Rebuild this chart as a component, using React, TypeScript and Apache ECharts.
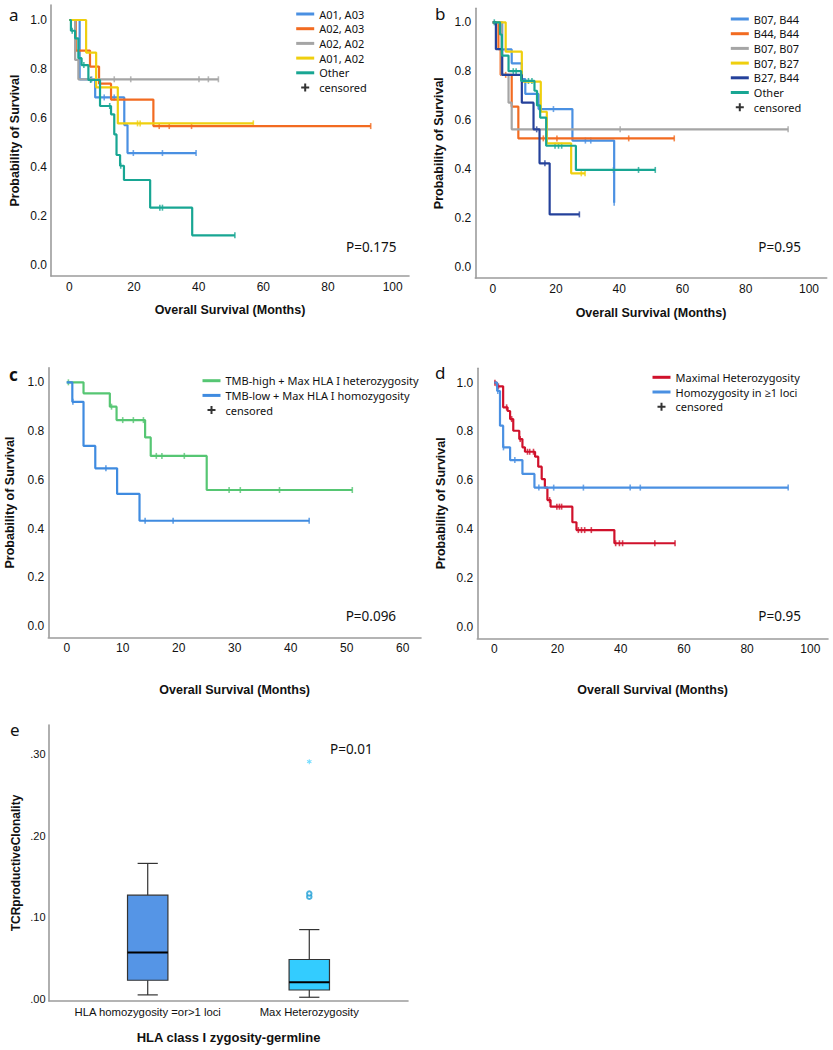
import React, { useEffect, useRef } from 'react';
import * as echarts from 'echarts';

type Step = [number, number];

// ---------- Panel a : HLA-A genotypes ----------
const aNames = ['A01, A03', 'A02, A03', 'A02, A02', 'A01, A02', 'Other'];
const aSteps_A01A03: Step[] = [[3.2, 0.758], [8, 0.684], [17, 0.571], [18, 0.457]];
const aCens_A01A03 = [6.9, 10.8, 13.9, 19.8, 28.8, 39.2];
const aSteps_A02A03: Step[] = [[2, 0.875], [6.4, 0.81], [9.2, 0.74], [12.9, 0.675], [26, 0.567]];
const aCens_A02A03 = [27.8, 30.9, 37.8, 93.2];
const aSteps_A02A02: Step[] = [[1.8, 0.837], [2.8, 0.758]];
const aCens_A02A02 = [6.6, 13.9, 19, 40.1, 43, 46.1];
const aSteps_A01A02: Step[] = [[5.2, 0.867], [8.3, 0.725], [15, 0.578]];
const aCens_A01A02 = [21.1, 21.9, 56.9];
const aSteps_Other: Step[] = [[0.5, 0.956], [1.8, 0.925], [2.8, 0.844], [3.8, 0.816], [5.9, 0.755], [9.5, 0.649], [12.9, 0.615], [13.9, 0.533], [14.6, 0.449], [15.7, 0.405], [16.9, 0.347], [25, 0.234], [38, 0.121]];
const aCens_Other = [0.9, 4.5, 6.6, 12.5, 15.9, 28, 28.8, 51.2];
const aPValue = 'P=0.175';

// ---------- Panel b : HLA-B genotypes ----------
const bNames = ['B07, B44', 'B44, B44', 'B07, B07', 'B07, B27', 'B27, B44', 'Other'];
const bSteps_B07B44: Step[] = [[3, 0.889], [6, 0.832], [9.2, 0.768], [10.3, 0.707], [14.5, 0.645], [25.2, 0.516], [38.4, 0.262]];
const bCens_B07B44 = [19.2, 29.3, 31, 38.4];
const bSteps_B44B44: Step[] = [[1.8, 0.89], [2.5, 0.785], [6, 0.655], [8.1, 0.525]];
const bCens_B44B44 = [4.1, 16, 20.3, 43, 57.4];
const bSteps_B07B07: Step[] = [[2.8, 0.785], [5, 0.671], [6, 0.562]];
const bCens_B07B07 = [40.3, 93.4];
const bSteps_B07B27: Step[] = [[4.1, 0.88], [9.2, 0.757], [15.2, 0.634], [17.1, 0.505], [24.8, 0.382]];
const bCens_B07B27 = [28, 29.2];
const bSteps_B27B44: Step[] = [[1, 0.89], [3, 0.785], [9.2, 0.671], [12.9, 0.562], [14.8, 0.423], [18, 0.214]];
const bCens_B27B44 = [13.9, 16.5, 27.4];
const bSteps_Other: Step[] = [[2.3, 0.95], [2.9, 0.864], [5, 0.8], [9, 0.76], [13.2, 0.72], [14, 0.66], [15, 0.61], [16.9, 0.495], [26.3, 0.396]];
const bCens_Other = [0.5, 6.5, 7.4, 11.3, 12.4, 19.7, 20.8, 21.8, 38.2, 46.1, 51.4];
const bPValue = 'P=0.95';

// ---------- Panel c : TMB + HLA ----------
const cNames = ['TMB-high + Max HLA I heterozygosity', 'TMB-low + Max HLA I homozygosity'];
const cSteps_High: Step[] = [[3, 0.955], [7.7, 0.9], [8.9, 0.845], [14, 0.774], [15, 0.698], [25, 0.558]];
const cCens_High = [0.3, 8, 10, 11.9, 13.7, 16, 17, 21, 29, 31, 38, 51];
const cSteps_Low: Step[] = [[1, 0.92], [3, 0.739], [5.1, 0.647], [9, 0.542], [13, 0.432]];
const cCens_Low = [1.1, 7, 14, 19, 43.3];
const cPValue = 'P=0.096';

// ---------- Panel d : zygosity ----------
const dNames = ['Maximal Heterozygosity', 'Homozygosity in ≥1 loci'];
const dSteps_Max: Step[] = [[0.8, 0.985], [2.8, 0.899], [4.2, 0.884], [5, 0.851], [6, 0.803], [7.9, 0.769], [8.9, 0.735], [9.7, 0.717], [12.9, 0.697], [13.9, 0.656], [15, 0.605], [16, 0.57], [16.8, 0.519], [17.8, 0.492], [24.7, 0.428], [26, 0.396], [38, 0.342]];
const dCens_Max = [0.2, 1.3, 3.9, 5.5, 8.2, 10.5, 11.2, 12.4, 17.5, 19.8, 20.6, 21.3, 26.6, 27.6, 28.6, 30.7, 38.4, 39.6, 40.6, 50.8, 57.2];
const dSteps_Homo: Step[] = [[0.9, 0.966], [1.8, 0.824], [2.8, 0.735], [5, 0.683], [8.9, 0.626], [12.7, 0.57]];
const dCens_Homo = [1.1, 2.9, 6.5, 14.1, 18.8, 28.2, 43, 46.2, 93];
const dPValue = 'P=0.95';

// ---------- Panel e : boxplot ----------
const eCategories = ['HLA homozygosity =or>1 loci', 'Max Heterozygosity'];
// [min, Q1, median, Q3, max]
const eBoxStats = [
  [0.0045, 0.0225, 0.0566, 0.127, 0.166],
  [0.0016, 0.0105, 0.02, 0.048, 0.0847],
];
const eOutliers = [[1, 0.125], [1, 0.129]];
const eExtremes = [[1, 0.291]];
const ePValue = 'P=0.01';

// ---------- styles ----------
const ARIAL = "'Liberation Sans', Arial, sans-serif";
const NOTO = "'Noto Sans', 'Open Sans', sans-serif";
const AXIS_COLOR = '#9c9c9c';
const TEXT_COLOR = '#111111';
const BLUE = '#4A90E2';
const ORANGE = '#F26B21';
const GREY = '#A5A5A5';
const YELLOW = '#EFCF0E';
const TEAL = '#18A693';
const NAVY = '#24419B';
const GREEN = '#56C673';
const CBLUE = '#3F8BE0';
const RED = '#D0112B';
const BOX_COLORS = ['#5595E6', '#33CCFF'];
const PLUS_ICON = 'path://M3,0h2v3h3v2h-3v3h-2v-3h-3v-2h3z';
const STAR_ICON = 'path://M4,0h2v3.3l2.9,-1.7l1,1.7l-2.9,1.7l2.9,1.7l-1,1.7l-2.9,-1.7v3.3h-2v-3.3l-2.9,1.7l-1,-1.7l2.9,-1.7l-2.9,-1.7l1,-1.7l2.9,1.7z';

function survivalAt(steps: Step[], t: number) {
  let s = 1;
  for (const [st, sv] of steps) if (st <= t) s = sv;
  return s;
}

function stepLine(steps: Step[], cens: number[]) {
  const end = Math.max(...cens, ...steps.map((s) => s[0]));
  const pts: number[][] = [[0, 1]];
  let prev = 1;
  for (const [t, s] of steps) {
    pts.push([t, prev], [t, s]);
    prev = s;
  }
  pts.push([end, prev]);
  return pts;
}

type Curve = { name: string; steps: Step[]; cens: number[]; color: string };

function kmSeries(idx: number, curves: Curve[]) {
  const out: any[] = [];
  curves.forEach((c) => {
    out.push({
      type: 'line',
      name: c.name,
      xAxisIndex: idx,
      yAxisIndex: idx,
      data: stepLine(c.steps, c.cens),
      symbol: 'none',
      lineStyle: { color: c.color, width: 2.2 },
      itemStyle: { color: c.color },
      silent: true,
    });
    out.push({
      type: 'scatter',
      name: c.name + ' (censored marks)',
      xAxisIndex: idx,
      yAxisIndex: idx,
      data: c.cens.map((t) => [t, survivalAt(c.steps, t)]),
      symbol: 'rect',
      symbolSize: [1.6, 6],
      itemStyle: { color: c.color },
      silent: true,
    });
  });
  return out;
}

function isMultiple(v: number, step: number) {
  return Math.abs(v / step - Math.round(v / step)) < 1e-6;
}

function kmXAxis(gridIndex: number, min: number, max: number, interval: number, nameGap: number) {
  return {
    gridIndex,
    type: 'value',
    min,
    max,
    minInterval: interval,
    maxInterval: interval,
    splitNumber: 5,
    axisLine: { show: true, onZero: false, lineStyle: { color: AXIS_COLOR, width: 1.6 } },
    axisTick: { show: false },
    splitLine: { show: false },
    axisLabel: {
      margin: 5,
      fontFamily: ARIAL,
      fontSize: 12,
      color: TEXT_COLOR,
      hideOverlap: false,
      formatter: (v: number) => (isMultiple(v, interval) ? String(Math.round(v)) : ''),
    },
    name: 'Overall Survival (Months)',
    nameLocation: 'middle',
    nameGap,
    nameTextStyle: { fontFamily: ARIAL, fontSize: 12.5, fontWeight: 'bold', color: TEXT_COLOR },
  };
}

function kmYAxis(gridIndex: number, min: number, max: number, nameGap: number) {
  return {
    gridIndex,
    type: 'value',
    min,
    max,
    minInterval: 0.2,
    maxInterval: 0.2,
    splitNumber: 5,
    axisLine: { show: true, onZero: false, lineStyle: { color: AXIS_COLOR, width: 1.6 } },
    axisTick: { show: false },
    splitLine: { show: false },
    axisLabel: {
      margin: 4,
      fontFamily: ARIAL,
      fontSize: 12,
      color: TEXT_COLOR,
      hideOverlap: false,
      formatter: (v: number) => (isMultiple(v, 0.2) ? (Math.round(v * 10) / 10).toFixed(1) : ''),
    },
    name: 'Probability of Survival',
    nameLocation: 'middle',
    nameGap,
    nameTextStyle: { fontFamily: ARIAL, fontSize: 12.5, fontWeight: 'bold', color: TEXT_COLOR },
  };
}

function kmLegend(names: string[], left: number, top: number) {
  return {
    data: [
      ...names.map((n) => ({ name: n, itemStyle: { color: 'transparent', borderColor: 'transparent', opacity: 0 } })),
      { name: 'censored', icon: PLUS_ICON },
    ],
    left,
    top,
    padding: 0,
    orient: 'vertical',
    itemWidth: 18,
    itemHeight: 8,
    itemGap: 2.7,
    selectedMode: false,
    lineStyle: { width: 3 },
    textStyle: { fontFamily: NOTO, fontSize: 11, lineHeight: 12, color: TEXT_COLOR },
  };
}

function textEl(text: string, x: number, y: number, fontSize: number, fontWeight = 'normal') {
  return {
    type: 'text',
    x,
    y,
    silent: true,
    style: { text, fontFamily: NOTO, fontSize, fontWeight, fill: TEXT_COLOR, align: 'left', verticalAlign: 'middle' },
  };
}

export default function App() {
  const ref = useRef<HTMLDivElement>(null);

  useEffect(() => {
    if (!ref.current) return;
    const chart = echarts.init(ref.current, undefined, { renderer: 'svg' });

    const aCurves: Curve[] = [
      { name: aNames[0], steps: aSteps_A01A03, cens: aCens_A01A03, color: BLUE },
      { name: aNames[1], steps: aSteps_A02A03, cens: aCens_A02A03, color: ORANGE },
      { name: aNames[2], steps: aSteps_A02A02, cens: aCens_A02A02, color: GREY },
      { name: aNames[3], steps: aSteps_A01A02, cens: aCens_A01A02, color: YELLOW },
      { name: aNames[4], steps: aSteps_Other, cens: aCens_Other, color: TEAL },
    ];
    const bCurves: Curve[] = [
      { name: bNames[0], steps: bSteps_B07B44, cens: bCens_B07B44, color: BLUE },
      { name: bNames[1], steps: bSteps_B44B44, cens: bCens_B44B44, color: ORANGE },
      { name: bNames[2], steps: bSteps_B07B07, cens: bCens_B07B07, color: GREY },
      { name: bNames[3], steps: bSteps_B07B27, cens: bCens_B07B27, color: YELLOW },
      { name: bNames[4], steps: bSteps_B27B44, cens: bCens_B27B44, color: NAVY },
      { name: bNames[5], steps: bSteps_Other, cens: bCens_Other, color: TEAL },
    ];
    const cCurves: Curve[] = [
      { name: cNames[0], steps: cSteps_High, cens: cCens_High, color: GREEN },
      { name: cNames[1], steps: cSteps_Low, cens: cCens_Low, color: CBLUE },
    ];
    const dCurves: Curve[] = [
      { name: dNames[0], steps: dSteps_Max, cens: dCens_Max, color: RED },
      { name: dNames[1], steps: dSteps_Homo, cens: dCens_Homo, color: BLUE },
    ];

    const boxSeries = {
      type: 'custom',
      xAxisIndex: 4,
      yAxisIndex: 4,
      data: eBoxStats.map((b, i) => [i, ...b]),
      encode: { x: 0, y: [1, 2, 3, 4, 5] },
      silent: true,
      renderItem: (params: any, api: any) => {
        const x = api.value(0);
        const pLo = api.coord([x, api.value(1)]);
        const pQ1 = api.coord([x, api.value(2)]);
        const pMed = api.coord([x, api.value(3)]);
        const pQ3 = api.coord([x, api.value(4)]);
        const pHi = api.coord([x, api.value(5)]);
        const halfW = api.size([0.125, 0])[0];
        const capHalf = halfW / 2;
        const st = { stroke: '#333333', lineWidth: 1.2 };
        const cx = pQ1[0];
        return {
          type: 'group',
          children: [
            { type: 'line', shape: { x1: cx, y1: pHi[1], x2: cx, y2: pQ3[1] }, style: st },
            { type: 'line', shape: { x1: cx - capHalf, y1: pHi[1], x2: cx + capHalf, y2: pHi[1] }, style: st },
            { type: 'line', shape: { x1: cx, y1: pQ1[1], x2: cx, y2: pLo[1] }, style: st },
            { type: 'line', shape: { x1: cx - capHalf, y1: pLo[1], x2: cx + capHalf, y2: pLo[1] }, style: st },
            {
              type: 'rect',
              shape: { x: cx - halfW, y: pQ3[1], width: halfW * 2, height: pQ1[1] - pQ3[1] },
              style: { fill: BOX_COLORS[params.dataIndex], stroke: '#333333', lineWidth: 1.2 },
            },
            { type: 'line', shape: { x1: cx - halfW, y1: pMed[1], x2: cx + halfW, y2: pMed[1] }, style: { stroke: '#000000', lineWidth: 2 } },
          ],
        };
      },
    };

    const option: any = {
      animation: false,
      backgroundColor: '#ffffff',
      grid: [
        { left: 51, top: 5, width: 358, height: 271 },
        { left: 475.3, top: 8.3, width: 351.4, height: 269.7 },
        { left: 48.3, top: 367.7, width: 372.7, height: 269.6 },
        { left: 477.3, top: 368.3, width: 350.7, height: 270 },
        { left: 49, top: 725, width: 359, height: 276 },
      ],
      xAxis: [
        kmXAxis(0, -5.66, 105.04, 20, 27.5),
        kmXAxis(1, -5.51, 105.6, 20, 28),
        kmXAxis(2, -3.29, 63.27, 10, 46.5),
        kmXAxis(3, -5.38, 105.6, 20, 45.5),
        {
          gridIndex: 4,
          type: 'value',
          min: -0.611,
          max: 1.611,
          minInterval: 1,
          maxInterval: 1,
          axisLine: { show: true, onZero: false, lineStyle: { color: AXIS_COLOR, width: 1.6 } },
          axisTick: { show: false },
          splitLine: { show: false },
          axisLabel: {
            margin: 5,
            fontFamily: ARIAL,
            fontSize: 11.3,
            color: TEXT_COLOR,
            hideOverlap: false,
            formatter: (v: number) => (isMultiple(v, 1) && eCategories[Math.round(v)] ? eCategories[Math.round(v)] : ''),
          },
          name: 'HLA class I zygosity-germline',
          nameLocation: 'middle',
          nameGap: 29.5,
          nameTextStyle: { fontFamily: ARIAL, fontSize: 13, fontWeight: 'bold', color: TEXT_COLOR },
        },
      ],
      yAxis: [
        kmYAxis(0, -0.0449, 1.0612, 29.5),
        kmYAxis(1, -0.0462, 1.0573, 29.5),
        kmYAxis(2, -0.0464, 1.06, 32),
        kmYAxis(3, -0.0475, 1.059, 30),
        {
          gridIndex: 4,
          type: 'value',
          min: -0.003,
          max: 0.336,
          minInterval: 0.1,
          maxInterval: 0.1,
          axisLine: { show: true, onZero: false, lineStyle: { color: AXIS_COLOR, width: 1.6 } },
          axisTick: { show: false },
          splitLine: { show: false },
          axisLabel: {
            margin: 3.5,
            fontFamily: ARIAL,
            fontSize: 11,
            color: TEXT_COLOR,
            hideOverlap: false,
            formatter: (v: number) => (isMultiple(v, 0.1) ? Math.abs(Math.round(v * 100) / 100).toFixed(2).replace(/^0/, '') : ''),
          },
          name: 'TCRproductiveClonality',
          nameLocation: 'middle',
          nameGap: 27,
          nameTextStyle: { fontFamily: ARIAL, fontSize: 12, fontWeight: 'bold', color: TEXT_COLOR },
        },
      ],
      legend: [
        kmLegend(aNames, 294.7, 8),
        kmLegend(bNames, 729.3, 13),
        kmLegend(cNames, 201, 374.7),
        kmLegend(dNames, 651, 371.3),
      ],
      series: [
        ...kmSeries(0, aCurves),
        ...kmSeries(1, bCurves),
        ...kmSeries(2, cCurves),
        ...kmSeries(3, dCurves),
        { type: 'scatter', name: 'censored', data: [], symbol: PLUS_ICON, itemStyle: { color: '#000000' } },
        boxSeries,
        {
          type: 'scatter',
          name: 'Outliers',
          xAxisIndex: 4,
          yAxisIndex: 4,
          data: eOutliers,
          symbol: 'emptyCircle',
          symbolSize: 4.5,
          itemStyle: { color: '#1E9FD6', borderWidth: 1.3 },
          silent: true,
        },
        {
          type: 'scatter',
          name: 'Extremes',
          xAxisIndex: 4,
          yAxisIndex: 4,
          data: eExtremes,
          symbol: STAR_ICON,
          symbolSize: 5,
          itemStyle: { color: '#4FD3FF' },
          silent: true,
        },
      ],
      graphic: [
        textEl('a', 9, 14, 17),
        textEl('b', 435, 13, 17),
        textEl('c', 9, 374, 17, 'bold'),
        textEl('d', 435, 372, 17),
        textEl('e', 10, 729, 17),
        textEl(aPValue, 346, 246.7, 13.5),
        textEl(bPValue, 758.3, 246.7, 13.5),
        textEl(cPValue, 345.7, 615.7, 13.5),
        textEl(dPValue, 758.3, 615.7, 13.5),
        textEl(ePValue, 330, 749, 13.5),
      ],
    };

    chart.setOption(option);
    return () => chart.dispose();
  }, []);

  return <div ref={ref} style={{ position: 'absolute', left: 0, top: 0, width: 833, height: 1050 }} />;
}
